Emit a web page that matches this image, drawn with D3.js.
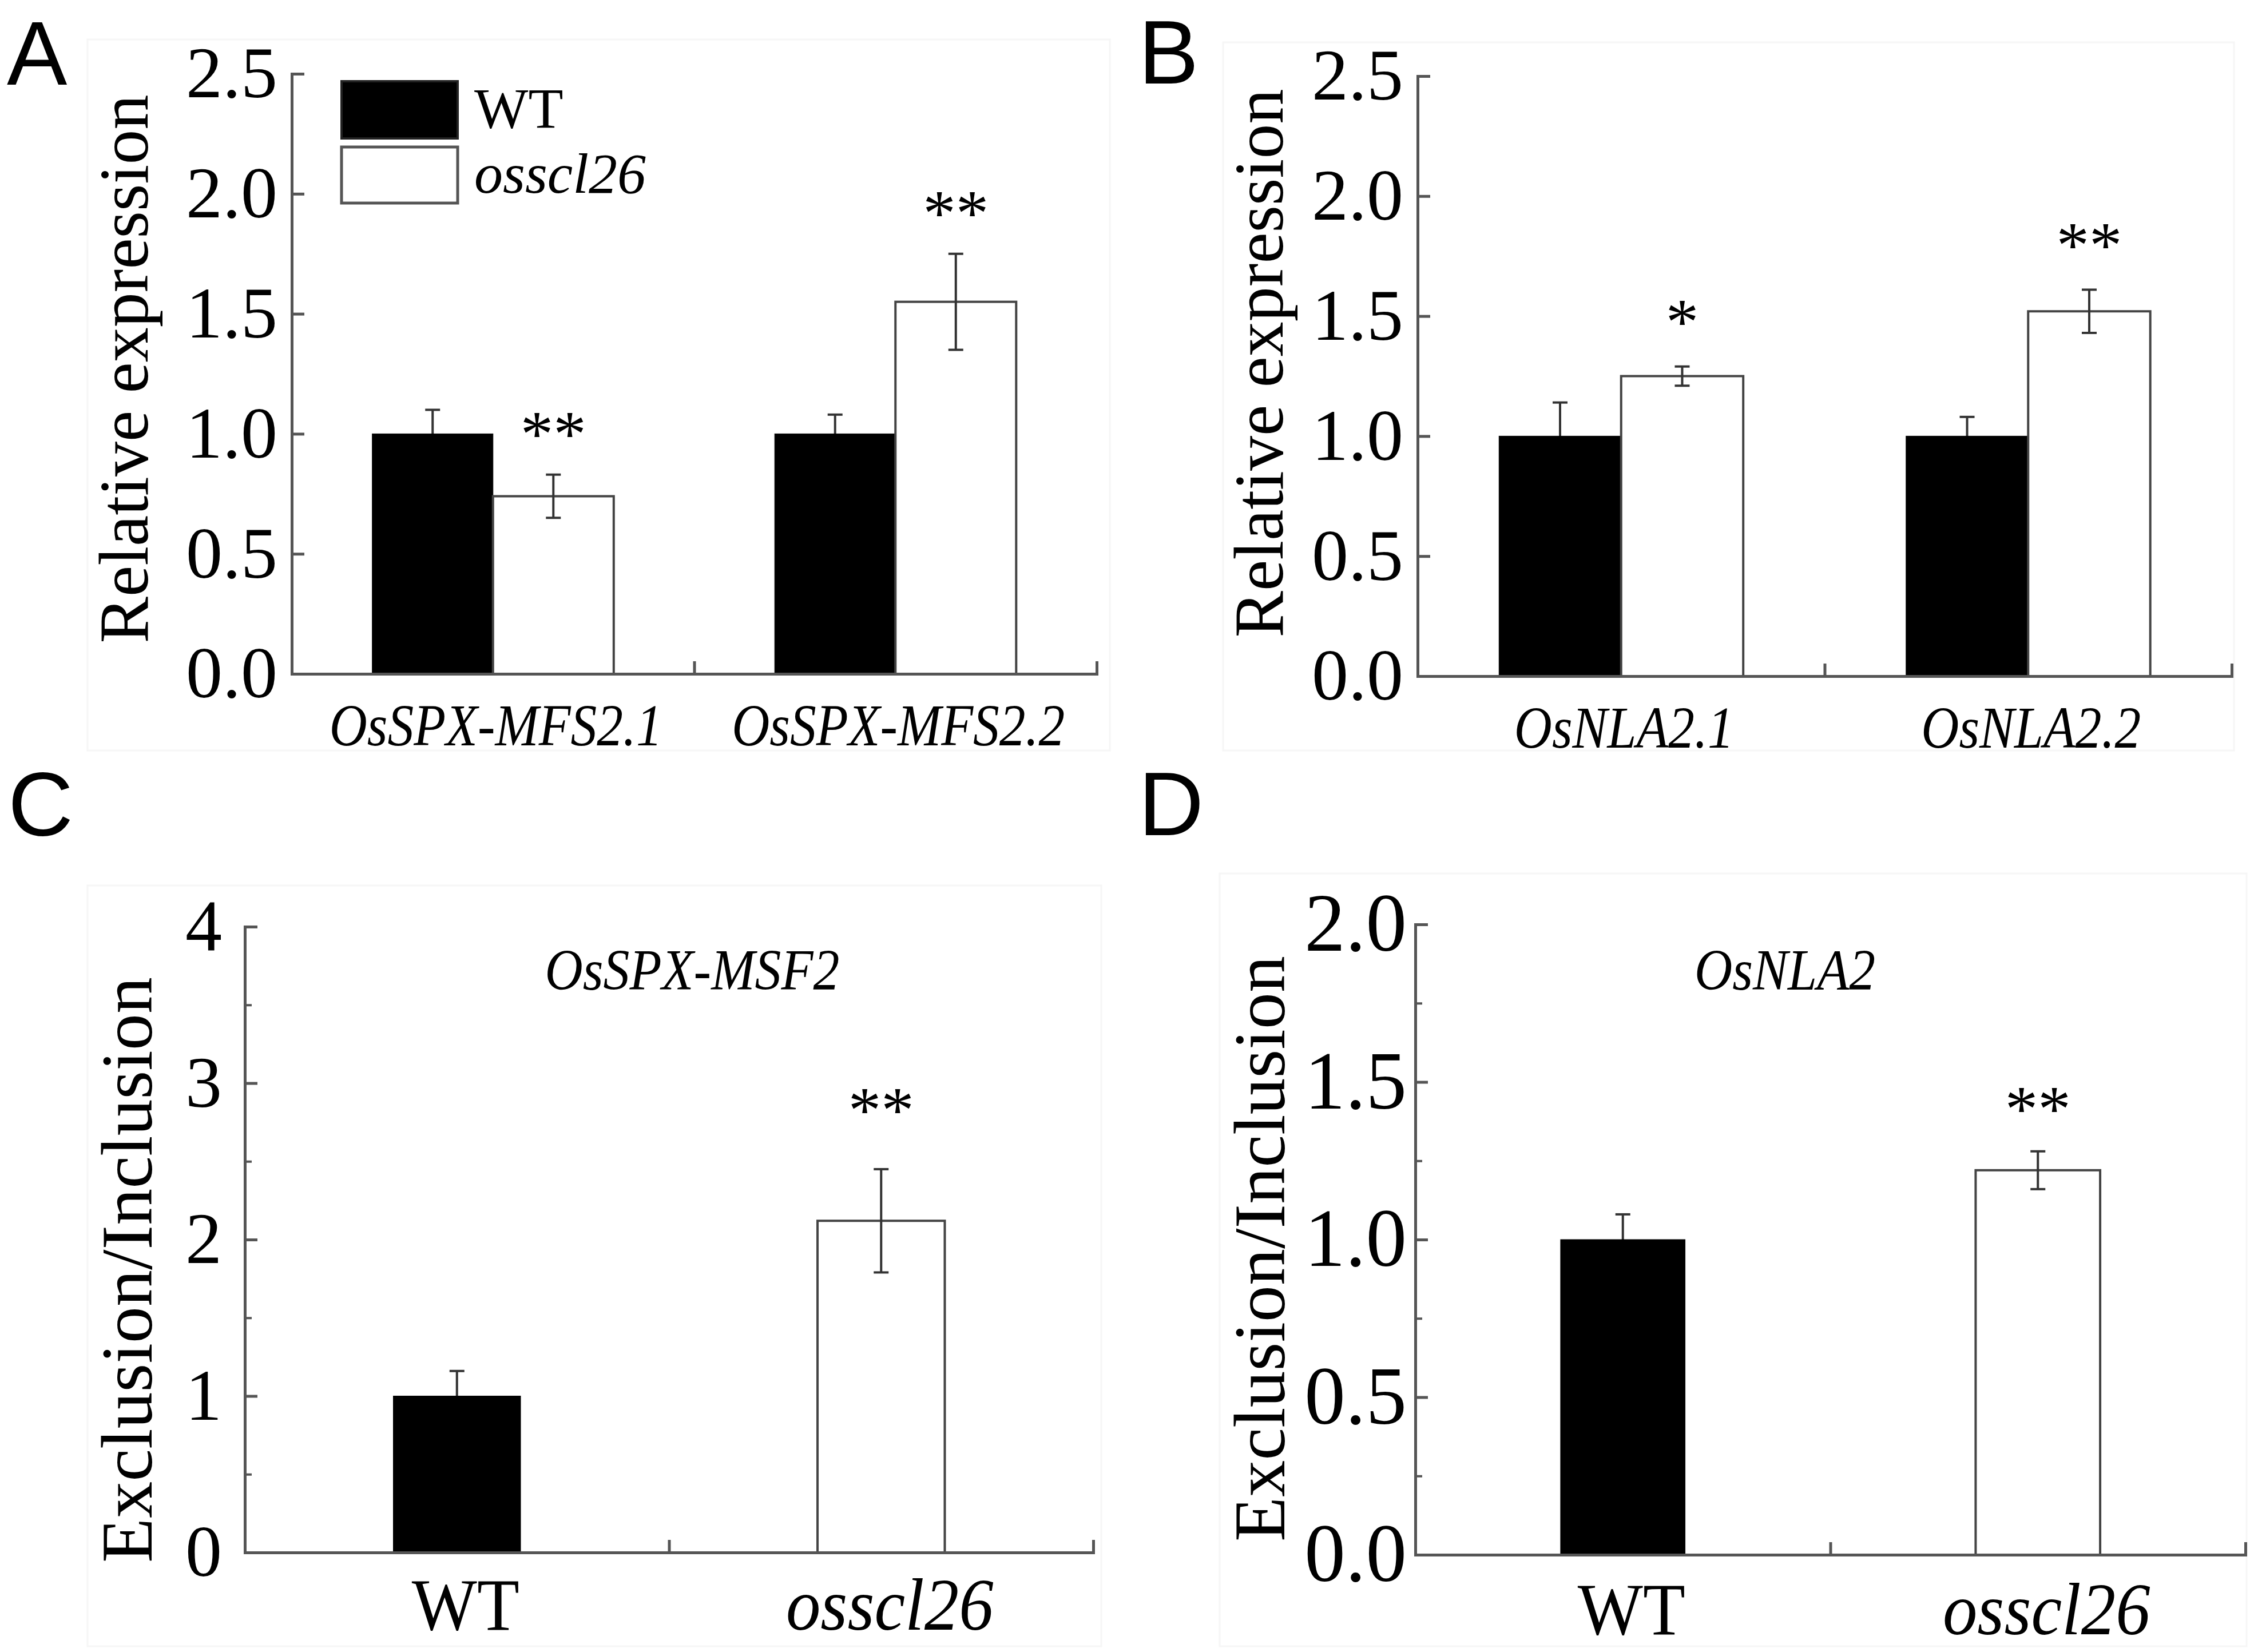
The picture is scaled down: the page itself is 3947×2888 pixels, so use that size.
<!DOCTYPE html>
<html><head><meta charset="utf-8">
<script src="https://cdn.jsdelivr.net/npm/d3@7"></script>
<style>html,body{margin:0;padding:0;background:#fff}svg{display:block}</style>
</head><body>
<svg id="fig" width="3947" height="2888"></svg>
<script>
// ---------------- DATA ----------------
const seriesNames = ["WT", "osscl26"];

// Panel A
const genesA = ["OsSPX-MFS2.1", "OsSPX-MFS2.2"];
const wtA = [1.00, 1.00];
const wtErrA = [0.10, 0.08];
const mutA = [0.74, 1.55];
const mutErrA = [0.09, 0.20];
const sigA = ["**", "**"];

// Panel B
const genesB = ["OsNLA2.1", "OsNLA2.2"];
const wtB = [1.00, 1.00];
const wtErrB = [0.14, 0.08];
const mutB = [1.25, 1.52];
const mutErrB = [0.04, 0.09];
const sigB = ["*", "**"];

// Panel C
const titleC = "OsSPX-MSF2";
const valuesC = [1.00, 2.12];
const errC = [0.16, 0.33];
const sigC = ["", "**"];

// Panel D
const titleD = "OsNLA2";
const valuesD = [1.00, 1.22];
const errD = [0.08, 0.06];
const sigD = ["", "**"];

// Tick values / labels
const ticksAB = [0, 0.5, 1.0, 1.5, 2.0, 2.5];
const tickLabelsAB = ["0.0", "0.5", "1.0", "1.5", "2.0", "2.5"];
const ticksC = [0, 1, 2, 3, 4];
const tickLabelsC = ["0", "1", "2", "3", "4"];
const minorC = [0.5, 1.5, 2.5, 3.5];
const ticksD = [0, 0.5, 1.0, 1.5, 2.0];
const tickLabelsD = ["0.0", "0.5", "1.0", "1.5", "2.0"];
const minorD = [0.25, 0.75, 1.25, 1.75];

// ---------------- STYLE / LAYOUT ----------------
const SERIF = "'Liberation Serif','Times New Roman',serif";
const SANS = "'Liberation Sans',Arial,sans-serif";
const AX = "#555";
const svg = d3.select("#fig");
svg.append("rect").attr("width", 3947).attr("height", 2888).attr("fill", "#fff");

const LA = {letter:"A", lx:12, ly:148, box:[153,69,1940,1312], x0:510, x1:1917, y0:1178, y1:129, yMax:2.5,
  tickFs:128, tickPad:25, ylabel:"Relative expression", ylx:258, yly:645, ylFs:122, xlabDy:125, starGap:73};
const LB = {letter:"B", lx:1990, ly:146, box:[2138,74,3905,1312], x0:2478, x1:3901, y0:1182, y1:133, yMax:2.5,
  tickFs:128, tickPad:25, ylabel:"Relative expression", ylx:2242, yly:635, ylFs:122, xlabDy:125, starGap:80};
const LC = {letter:"C", lx:14, ly:1460, box:[153,1548,1925,2878], x0:428, x1:1911, y0:2714, y1:1620, yMax:4,
  tickFs:128, tickPad:40, ylabel:"Exclusion/Inclusion", ylx:265, yly:2220, ylFs:128, xlabDy:135, starGap:105,
  tx:1210, ty:1730};
const LD = {letter:"D", lx:1990, ly:1460, box:[2132,1527,3927,2878], x0:2474, x1:3925, y0:2718, y1:1616, yMax:2,
  tickFs:143, tickPad:15, ylabel:"Exclusion/Inclusion", ylx:2245, yly:2183, ylFs:128, xlabDy:139, starGap:76,
  tx:3120, ty:1730};

function frame(L) {
  const [a, b, c, d] = L.box;
  svg.append("rect").attr("x", a).attr("y", b).attr("width", c - a).attr("height", d - b)
    .attr("fill", "none").attr("stroke", "#f6f6f6").attr("stroke-width", 3);
  svg.append("text").attr("x", L.lx).attr("y", L.ly).attr("font-family", SANS).attr("font-size", 158)
    .attr("fill", "#000").text(L.letter);
  svg.append("text").attr("transform", `translate(${L.ylx},${L.yly}) rotate(-90)`)
    .attr("text-anchor", "middle").attr("font-family", SERIF).attr("font-size", L.ylFs)
    .attr("fill", "#000").text(L.ylabel);
}

function axes(L, y, ticks, labels, minor, nCats) {
  const g = svg.append("g");
  const yAx = d3.axisLeft(y).tickValues(ticks).tickFormat((d, i) => labels[i])
    .tickSizeInner(-22).tickSizeOuter(0).tickPadding(L.tickPad);
  const gy = g.append("g").attr("transform", `translate(${L.x0},0)`).call(yAx);
  gy.select(".domain").attr("stroke", AX).attr("stroke-width", 5).attr("stroke-linecap", "square");
  gy.selectAll(".tick line").attr("stroke", AX).attr("stroke-width", 5);
  gy.selectAll(".tick text").attr("font-family", SERIF).attr("font-size", L.tickFs).attr("fill", "#000");
  if (minor) {
    const gm = g.append("g").attr("transform", `translate(${L.x0},0)`)
      .call(d3.axisLeft(y).tickValues(minor).tickFormat("").tickSizeInner(-12).tickSizeOuter(0));
    gm.select(".domain").remove();
    gm.selectAll(".tick line").attr("stroke", AX).attr("stroke-width", 4);
  }
  const xl = d3.scaleLinear().domain([0, nCats]).range([L.x0, L.x1]);
  const gx = g.append("g").attr("transform", `translate(0,${L.y0})`)
    .call(d3.axisBottom(xl).tickValues(d3.range(1, nCats + 1)).tickFormat("").tickSizeInner(-22).tickSizeOuter(0));
  gx.select(".domain").attr("stroke", AX).attr("stroke-width", 5).attr("stroke-linecap", "square");
  gx.selectAll(".tick line").attr("stroke", AX).attr("stroke-width", 5);
}

function errBar(layer, cx, y, v, e) {
  const cap = 13;
  const g = layer.append("g").attr("stroke", "#333").attr("stroke-width", 4);
  g.append("line").attr("x1", cx).attr("x2", cx).attr("y1", y(v - e)).attr("y2", y(v + e));
  g.append("line").attr("x1", cx - cap).attr("x2", cx + cap).attr("y1", y(v + e)).attr("y2", y(v + e));
  g.append("line").attr("x1", cx - cap).attr("x2", cx + cap).attr("y1", y(v - e)).attr("y2", y(v - e));
}

function bar(layer, x, w, y, v, black) {
  layer.append("rect").attr("x", x).attr("width", w).attr("y", y(v)).attr("height", y(0) - y(v))
    .attr("fill", black ? "#000" : "#fff")
    .attr("stroke", black ? "#000" : "#444").attr("stroke-width", black ? 1 : 4);
}

function star(cx, y, top, L, s) {
  if (!s) return;
  const fs = 115;
  svg.append("text").attr("x", cx).attr("y", y(top) - L.starGap + 0.35 * fs)
    .attr("text-anchor", "middle").attr("font-family", SERIF).attr("font-size", fs)
    .attr("fill", "#000").text(s);
}

function italicLabel(cx, by, fs, sx, txt, italic) {
  svg.append("text").attr("transform", `translate(${cx},${by}) scale(${sx},1)`)
    .attr("text-anchor", "middle").attr("font-family", SERIF).attr("font-size", fs)
    .attr("font-style", italic ? "italic" : "normal").attr("fill", "#000").text(txt);
}

// ----- grouped panels (A, B) -----
function grouped(L, genes, wt, wtErr, mut, mutErr, sig, legend) {
  frame(L);
  const y = d3.scaleLinear().domain([0, L.yMax]).range([L.y0, L.y1]);
  const xb = d3.scaleBand().domain(genes).range([L.x0, L.x1]).paddingInner(0).paddingOuter(0);
  const xs = d3.scaleBand().domain(seriesNames).range([xb.bandwidth() * 0.2, xb.bandwidth() * 0.8]);
  const below = svg.append("g"), bars = svg.append("g"), above = svg.append("g");
  genes.forEach((gname, i) => {
    const xw = xb(gname) + xs("WT"), xm = xb(gname) + xs("osscl26"), w = xs.bandwidth();
    errBar(below, xw + w / 2, y, wt[i], wtErr[i]);
    bar(bars, xw, w, y, wt[i], true);
    bar(bars, xm, w, y, mut[i], false);
    errBar(above, xm + w / 2, y, mut[i], mutErr[i]);
    star(xm + w / 2, y, mut[i] + mutErr[i], L, sig[i]);
    italicLabel(xb(gname) + xb.bandwidth() / 2 + 5, L.y0 + L.xlabDy, 104, 0.88, gname, true);
  });
  axes(L, y, ticksAB, tickLabelsAB, null, genes.length);
  if (legend) {
    const lg = svg.append("g");
    lg.append("rect").attr("x", 597).attr("y", 142).attr("width", 203).attr("height", 100)
      .attr("fill", "#000").attr("stroke", "#222").attr("stroke-width", 4);
    lg.append("rect").attr("x", 597).attr("y", 257).attr("width", 203).attr("height", 98)
      .attr("fill", "#fff").attr("stroke", "#555").attr("stroke-width", 5);
    lg.append("text").attr("x", 829).attr("y", 223).attr("font-family", SERIF).attr("font-size", 100)
      .attr("fill", "#000").text(seriesNames[0]);
    lg.append("text").attr("x", 829).attr("y", 337).attr("font-family", SERIF).attr("font-size", 100)
      .attr("font-style", "italic").attr("fill", "#000").text(seriesNames[1]);
  }
}

// ----- simple panels (C, D) -----
function simple(L, title, vals, errs, sig, ticks, labels, minor) {
  frame(L);
  const y = d3.scaleLinear().domain([0, L.yMax]).range([L.y0, L.y1]);
  const xb = d3.scaleBand().domain(seriesNames).range([L.x0, L.x1]).paddingInner(0).paddingOuter(0);
  const w = xb.bandwidth() * 0.30;
  const below = svg.append("g"), bars = svg.append("g"), above = svg.append("g");
  seriesNames.forEach((s, i) => {
    const cx = xb(s) + xb.bandwidth() / 2;
    const black = i === 0;
    errBar(black ? below : above, cx, y, vals[i], errs[i]);
    bar(bars, cx - w / 2, w, y, vals[i], black);
    star(cx, y, vals[i] + errs[i], L, sig[i]);
    italicLabel(cx + 15, L.y0 + L.xlabDy, 130, 0.93, s, !black);
  });
  svg.node().appendChild(above.node());
  axes(L, y, ticks, labels, minor, seriesNames.length);
  italicLabel(L.tx, L.ty, 102, 0.9, title, true);
}

grouped(LA, genesA, wtA, wtErrA, mutA, mutErrA, sigA, true);
grouped(LB, genesB, wtB, wtErrB, mutB, mutErrB, sigB, false);
simple(LC, titleC, valuesC, errC, sigC, ticksC, tickLabelsC, minorC);
simple(LD, titleD, valuesD, errD, sigD, ticksD, tickLabelsD, minorD);
</script>
</body></html>
